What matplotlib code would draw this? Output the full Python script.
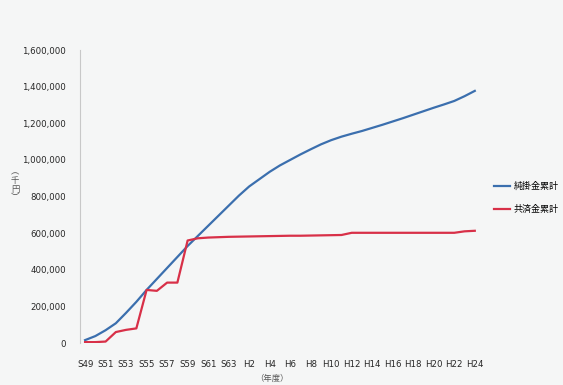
import matplotlib
matplotlib.use("Agg")
import matplotlib.pyplot as plt
from matplotlib.ticker import FuncFormatter

plt.rcParams['font.family'] = ['DejaVu Sans', 'Noto Sans CJK JP']

# fiscal years S49 (1974) .. H24 (2012)
years = (["S%d" % y for y in range(49, 64)] + ["H1"] +
         ["H%d" % y for y in range(2, 25)])
tick_labels = years[::2]

# cumulative amounts, thousand yen
kakekin = [16000, 38000, 70000, 108000, 165000, 225000, 290000, 350000,
           410000, 470000, 530000, 585000, 640000, 695000, 750000, 805000,
           855000, 895000, 935000, 970000, 1000000, 1030000, 1058000,
           1085000, 1108000, 1127000, 1143000, 1158000, 1175000, 1192000,
           1210000, 1228000, 1247000, 1266000, 1285000, 1303000, 1322000,
           1348000, 1377000]
kyosaikin = [5000, 5000, 8000, 60000, 72000, 80000, 290000, 285000,
             330000, 330000, 560000, 572000, 576000, 578000, 580000, 581000,
             582000, 583000, 584000, 585000, 586000, 586000, 587000,
             588000, 589000, 590000, 602000, 602000, 602000, 602000,
             602000, 602000, 602000, 602000, 602000, 602000, 602000,
             610000, 613000]
series_names = ["純掛金累計", "共済金累計"]

fig = plt.figure(figsize=(5.63, 3.85), dpi=100)
fig.patch.set_facecolor("#f5f6f6")
ax = fig.add_axes([0.142, 0.109, 0.725, 0.761])
ax.set_facecolor("none")

x = list(range(len(years)))
ax.plot(x, kakekin, color="#3b6fae", lw=1.6, label=series_names[0])
ax.plot(x, kyosaikin, color="#d83048", lw=1.6, label=series_names[1])

ax.set_xlim(-0.5, 39.3)
ax.set_ylim(0, 1600000)
ax.set_yticks(range(0, 1600001, 200000))
ax.yaxis.set_major_formatter(FuncFormatter(lambda v, p: "{:,.0f}".format(v)))
ax.set_xticks(x[::2])
ax.set_xticklabels(tick_labels)
ax.tick_params(axis="both", length=0, labelsize=6.2, colors="#262626")
ax.tick_params(axis="x", pad=12)
ax.tick_params(axis="y", pad=10)

for side in ["top", "right", "bottom"]:
    ax.spines[side].set_visible(False)
ax.spines["left"].set_color("#c8c8c8")
ax.spines["left"].set_linewidth(0.8)

fig.text(15 / 563, 1 - 185 / 385, "︵\n千\n円\n︶", fontsize=6,
         color="#555555", ha="center", va="center", linespacing=0.95)
fig.text(272 / 563, 1 - 378 / 385, "（年度）", fontsize=6,
         color="#555555", ha="center", va="center")

fig.legend(loc="upper left", bbox_to_anchor=(490 / 563, 1 - 178 / 385),
           frameon=False, fontsize=6.5, handlelength=1.8,
           labelspacing=1.6, handletextpad=0.4, borderaxespad=0)

fig.savefig("out.png", dpi=100, facecolor=fig.get_facecolor())
